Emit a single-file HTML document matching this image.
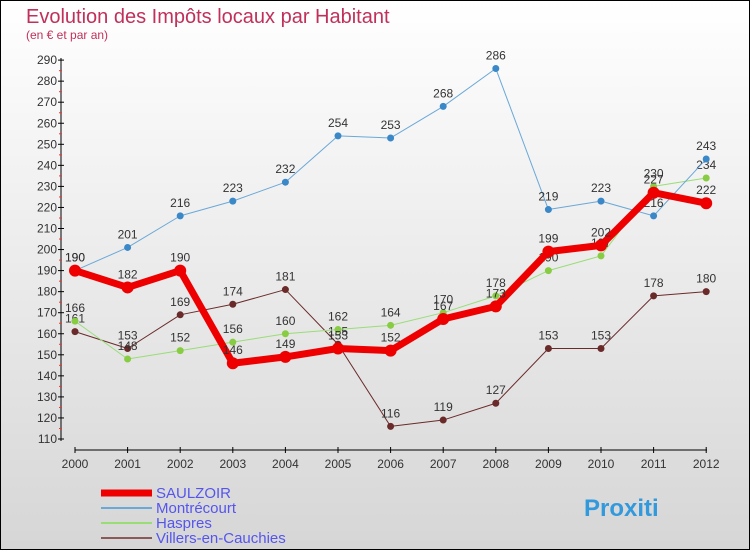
<!DOCTYPE html>
<html><head><meta charset="utf-8"><style>
body{margin:0}
#c{width:750px;height:550px;position:relative;box-sizing:border-box;border:1px solid #000;background:linear-gradient(#ffffff,#d6d6d6);font-family:"Liberation Sans",sans-serif;overflow:hidden}
</style></head><body>
<div id="c">
<svg id="s" width="748" height="548"></svg>
</div>
<script>
const years=["2000","2001","2002","2003","2004","2005","2006","2007","2008","2009","2010","2011","2012"];
const saulzoir=[190,182,190,146,149,153,152,167,173,199,202,227,222];
const montrecourt=[190,201,216,223,232,254,253,268,286,219,223,216,243];
const haspres=[166,148,152,156,160,162,164,170,178,190,197,230,234];
const villers=[161,153,169,174,181,155,116,119,127,153,153,178,180];
const yTicks=[110,120,130,140,150,160,170,180,190,200,210,220,230,240,250,260,270,280,290];
const NS="http://www.w3.org/2000/svg";
const s=document.getElementById('s');
const X=i=>74+i*52.6, Y=v=>438-(v-110)*2.105;
function el(t,a,p){const e=document.createElementNS(NS,t);for(const k in a)e.setAttribute(k,a[k]);(p||s).appendChild(e);return e;}
const title=el('text',{x:25,y:22,'font-size':20,fill:'#c0305a'});title.textContent='Evolution des Impôts locaux par Habitant';

const sub=el('text',{x:25,y:38,'font-size':12,fill:'#c0305a'});sub.textContent='(en € et par an)';

el('line',{x1:60,y1:57,x2:60,y2:440,stroke:'#000'});
el('line',{x1:74,y1:449,x2:706,y2:449,stroke:'#000'});
yTicks.forEach((v,i)=>{const y=Y(v);el('line',{x1:57,y1:y,x2:63,y2:y,stroke:'#000'});
 if(i<yTicks.length-1)el('line',{x1:58,y1:y-10.5,x2:61,y2:y-10.5,stroke:'#e33'});
 const t=el('text',{x:56,y:y+4,'font-size':12,'text-anchor':'end',fill:'#333'});t.textContent=v;
 });
years.forEach((yr,i)=>{el('line',{x1:X(i),y1:446,x2:X(i),y2:452,stroke:'#000'});
 const t=el('text',{x:X(i),y:467,'font-size':12,'text-anchor':'middle',fill:'#333'});t.textContent=yr;
 });
const series=[
 {n:'villers',d:villers,c:'#6b2a2a',w:1,r:3.5,lab:true},
 {n:'haspres',d:haspres,c:'#99dd77',w:1,r:3.5,pc:'#88cc44',lab:true},
 {n:'montrecourt',d:montrecourt,c:'#6aa8d8',w:1,r:3.5,pc:'#3a88c8',lab:true},
 {n:'saulzoir',d:saulzoir,c:'#ee0000',w:7,r:6,lab:true}];
series.forEach(sr=>{
 const p=el('polyline',{points:sr.d.map((v,i)=>X(i)+','+Y(v)).join(' '),fill:'none',stroke:sr.c,'stroke-width':sr.w,'stroke-linejoin':'round'});
 
 sr.d.forEach((v,i)=>{const c=el('circle',{cx:X(i),cy:Y(v),r:sr.r,fill:sr.pc||sr.c});
  
  const t=el('text',{x:X(i),y:Y(v)-9,'font-size':12,'text-anchor':'middle',fill:'#333'});t.textContent=v;
  });
});
const leg=[['SAULZOIR','#ee0000',7],['Montrécourt','#6aa8d8',2],['Haspres','#99dd77',2],['Villers-en-Cauchies','#8a5a5a',2]];
leg.forEach((l,i)=>{const y=492+i*15;el('line',{x1:100,y1:y,x2:151,y2:y,stroke:l[1],'stroke-width':l[2]});
 const t=el('text',{x:155,y:y+5,'font-size':15,fill:'#5555ee'});t.textContent=l[0];
 });
const px=el('text',{x:583,y:515,'font-size':24,'font-weight':'bold',fill:'#3399dd'});px.textContent='Proxiti';

</script>
</body></html>
